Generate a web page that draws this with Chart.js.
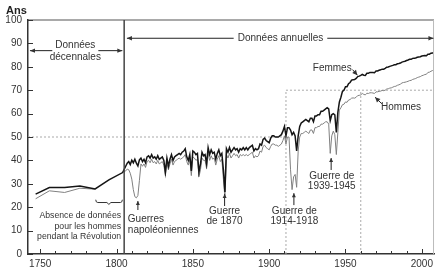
<!DOCTYPE html>
<html><head><meta charset="utf-8">
<script src="https://cdn.jsdelivr.net/npm/chart.js@4"></script>
<style>html,body{margin:0;padding:0;background:#fff}canvas{display:block}</style>
</head><body>
<canvas id="c" width="437" height="275"></canvas>
<script>
// ---- data ----
const decadeYears = [1747, 1756, 1766, 1776, 1786, 1795, 1804];
const womenDecade = [25.6, 28.4, 28.4, 29.1, 27.8, 31.7, 34.8];
const menDecade   = [23.6, 27.0, 26.3, 28.1, 27.7, null, 35.0];

const annualStart = 1806;
const womenAnnual = [
  37.5, 38.8, 39.5, 38.2, 40.1, 39.0, 40.5, 38.8, 37.6, 40.2,
  41.0, 39.5, 40.5, 39.0, 41.5, 42.0, 41.0, 42.5, 41.0, 41.5,
  40.5, 42.0, 40.5, 41.0, 41.5, 40.0, 35.0, 41.0, 37.5, 40.5,
  42.5, 40.0, 41.5, 42.0, 42.5, 43.0, 42.5, 43.5, 44.0, 45.0,
  41.5, 40.0, 42.5, 35.5, 44.0, 43.5, 42.5, 43.0, 35.0, 38.5,
  43.5, 42.0, 42.5, 38.5, 45.5, 42.5, 44.5, 43.0, 43.5, 40.5,
  43.0, 44.5, 42.0, 43.0, 36.0, 26.5, 45.0, 43.5, 45.5, 43.5,
  44.5, 45.5, 44.5, 45.0, 43.5, 45.0, 44.5, 45.5, 44.5, 45.5,
  44.5, 45.5, 46.0, 46.5, 44.0, 45.0, 44.5, 45.0, 47.0, 46.5,
  49.0, 49.5, 48.5, 48.0, 47.5, 49.5, 50.5, 50.5, 50.0, 50.0,
  50.0, 50.5, 51.0, 52.5, 54.5, 50.5, 54.0, 54.0, 53.0, 51.0,
  52.0, 50.5, 44.0, 50.5, 54.5, 56.0, 56.5, 57.0, 57.5, 57.0,
  56.5, 58.0, 58.0, 56.5, 59.0, 59.0, 59.5, 59.5, 61.0, 61.0,
  61.5, 62.0, 62.5, 62.0, 57.0, 59.5, 60.0, 59.5, 52.0, 60.5,
  65.0, 67.0, 69.5, 70.0, 71.5, 71.5, 72.8, 73.3, 74.3, 74.5,
  74.6, 75.0, 75.8, 76.0, 76.3, 76.8, 76.4, 76.3, 77.2, 77.2,
  77.6, 77.6, 77.6, 77.5, 78.2, 78.2, 78.5, 78.7, 79.0, 79.0,
  79.3, 79.8, 79.9, 80.2, 80.4, 80.6, 80.9, 80.9, 81.3, 81.4,
  81.6, 82.0, 82.2, 82.4, 82.7, 82.9, 83.2, 83.2, 83.6, 83.7,
  83.8, 84.1, 84.2, 84.3, 84.6, 84.7, 84.8, 84.7, 85.4, 85.4,
  85.8, 85.9, 86.0
];
const menAnnual = [
  35.5, 36.3, 36.0, 34.5, 32.0, 27.5, 24.5, 24.0, 25.0, 31.5,
  38.5, 37.5, 38.5, 37.0, 39.5, 40.0, 39.0, 40.5, 39.0, 39.5,
  38.5, 40.0, 38.5, 39.0, 39.5, 38.0, 33.5, 39.0, 36.0, 38.5,
  40.5, 38.0, 39.5, 40.0, 40.5, 41.0, 40.5, 41.0, 41.5, 42.5,
  39.5, 38.0, 40.5, 33.5, 41.5, 41.0, 40.0, 40.5, 33.0, 36.0,
  41.0, 40.0, 40.0, 36.5, 43.0, 40.0, 42.0, 40.5, 41.0, 38.0,
  40.5, 42.0, 39.5, 40.5, 32.0, 24.0, 42.5, 41.0, 43.0, 41.0,
  42.0, 43.0, 42.0, 42.5, 41.0, 42.5, 42.0, 42.5, 42.0, 42.5,
  42.0, 42.5, 43.0, 43.5, 41.0, 42.0, 41.5, 42.0, 44.0, 43.5,
  46.0, 46.5, 45.5, 45.0, 44.5, 46.0, 47.0, 47.0, 46.5, 46.5,
  46.0, 46.5, 47.0, 48.5, 50.5, 47.0, 50.0, 50.0, 36.0, 27.5,
  33.0, 34.0, 28.5, 44.0, 50.0, 51.5, 51.5, 52.0, 52.5, 52.0,
  51.5, 53.0, 53.0, 51.5, 54.0, 54.0, 54.5, 54.5, 55.5, 55.5,
  56.0, 56.5, 56.5, 55.5, 43.0, 50.5, 52.5, 51.0, 42.5, 52.0,
  61.5, 62.5, 63.8, 64.0, 65.0, 64.8, 65.8, 66.0, 66.6, 66.7,
  66.6, 67.0, 67.7, 67.8, 68.0, 68.6, 68.2, 68.0, 68.7, 68.6,
  68.9, 68.9, 68.8, 68.6, 69.3, 69.3, 69.5, 69.6, 69.9, 69.8,
  70.0, 70.5, 70.6, 70.9, 71.0, 71.3, 71.6, 71.7, 72.1, 72.3,
  72.6, 73.1, 73.3, 73.4, 73.6, 73.8, 74.1, 74.2, 74.6, 74.8,
  75.0, 75.4, 75.6, 75.8, 76.2, 76.4, 76.7, 76.8, 77.6, 77.7,
  78.1, 78.4, 78.7
];
const xTickLabels = [1750, 1800, 1850, 1900, 1950, 2000];
const yTickLabels = [0, 10, 20, 30, 40, 50, 60, 70, 80, 90, 100];

// ---- build ----
const annualYears = womenAnnual.map((_, i) => annualStart + i);
const toPts = (xs, ys) => xs.map((x, i) => ({ x: x, y: ys[i] }));
const womenData = toPts(decadeYears, womenDecade).concat(toPts(annualYears, womenAnnual));
const menData = toPts(decadeYears, menDecade).concat(toPts(annualYears, menAnnual));

const FONT = '"Liberation Sans", Arial, Helvetica, sans-serif';
Chart.defaults.font.family = FONT;
const TXT = '#333';

function head(ctx, x1, y1, x2, y2, len, w) {
  const a = Math.atan2(y2 - y1, x2 - x1);
  const c = Math.cos(a), s = Math.sin(a);
  ctx.beginPath();
  ctx.moveTo(x2, y2);
  ctx.lineTo(x2 - len * c + w * s, y2 - len * s - w * c);
  ctx.lineTo(x2 - len * c - w * s, y2 - len * s + w * c);
  ctx.closePath();
  ctx.fill();
}
function seg(ctx, x1, y1, x2, y2) {
  ctx.beginPath(); ctx.moveTo(x1, y1); ctx.lineTo(x2, y2); ctx.stroke();
}
function arrow(ctx, x1, y1, x2, y2, len, w) {
  seg(ctx, x1, y1, x2, y2); head(ctx, x1, y1, x2, y2, len || 5, w || 2.2);
}

const annot = {
  id: 'annot',
  beforeDatasetsDraw(chart) {
    const { ctx, scales: { x, y } } = chart;
    const X = v => x.getPixelForValue(v), Y = v => y.getPixelForValue(v);
    ctx.save();
    ctx.strokeStyle = '#aaa'; ctx.lineWidth = 1; ctx.setLineDash([2, 2]);
    seg(ctx, X(1742), Y(50), X(1911), Y(50));
    seg(ctx, X(1911), Y(0), X(1911), Y(70));
    seg(ctx, X(1911), Y(70), X(2008), Y(70));
    seg(ctx, X(1960), Y(0), X(1960), Y(70));
    ctx.restore();
  },
  afterDraw(chart) {
    const { ctx, chartArea: a, scales: { x, y } } = chart;
    const X = v => x.getPixelForValue(v), Y = v => y.getPixelForValue(v);
    ctx.save();
    // frame top/right
    ctx.strokeStyle = '#555'; ctx.lineWidth = 1.2;
    seg(ctx, a.left, a.top, a.right, a.top);
    ctx.strokeStyle = '#bbb'; ctx.lineWidth = 1;
    seg(ctx, a.right - 0.5, a.top, a.right - 0.5, a.bottom);
    // separator
    ctx.strokeStyle = '#444'; ctx.lineWidth = 1.5;
    seg(ctx, X(1805), a.top, X(1805), a.bottom);
    // ticks
    ctx.strokeStyle = '#333'; ctx.lineWidth = 1;
    for (let v = xTickLabels[0]; v <= xTickLabels[xTickLabels.length - 1]; v += 10) {
      const major = xTickLabels.includes(v);
      const px = Math.round(X(v)) + 0.5;
      seg(ctx, px, a.bottom, px, a.bottom - (major ? 5 : 3));
    }
    yTickLabels.forEach(v => {
      const py = Math.round(Y(v)) + 0.5;
      seg(ctx, a.left, py, a.left + 5, py);
    });
    // title
    ctx.fillStyle = '#222';
    ctx.font = 'bold 11px ' + FONT;
    ctx.textAlign = 'left'; ctx.textBaseline = 'alphabetic';
    ctx.fillText('Ans', 6, 14);

    ctx.fillStyle = TXT; ctx.strokeStyle = '#222';
    ctx.font = '10px ' + FONT;
    ctx.textBaseline = 'middle'; ctx.textAlign = 'center';
    // Données décennales
    let cx = X(1773);
    ctx.fillText('Données', cx, Y(89.3));
    ctx.fillText('décennales', cx, Y(84.2));
    let w = ctx.measureText('Données').width / 2 + 3;
    let ay = Y(86.9);
    arrow(ctx, cx - w, ay, X(1743.3), ay);
    arrow(ctx, cx + w, ay, X(1803.8), ay);
    // Données annuelles
    cx = X(1907.4); ay = Y(92.2);
    ctx.fillText('Données annuelles', cx, ay);
    w = ctx.measureText('Données annuelles').width / 2 + 4;
    arrow(ctx, cx - w, ay, X(1806.8), ay);
    arrow(ctx, cx + w, ay, X(2007.6), ay);
    // Femmes / Hommes
    ctx.fillText('Femmes', X(1941.3), Y(79.3));
    arrow(ctx, X(1954.6), Y(78.8), X(1957.8), Y(76.4), 5, 2.5);
    ctx.fillText('Hommes', X(1986.4), Y(62.8));
    arrow(ctx, X(1973.8), Y(64.2), X(1969.4), Y(67.0), 5, 2.5);
    // wars
    ctx.textAlign = 'left';
    ctx.fillText('Guerres', X(1807.4), Y(15.0));
    ctx.fillText('napoléoniennes', X(1807.4), Y(10.3));
    arrow(ctx, X(1814), Y(18.8), X(1814), Y(22.6), 4, 2);
    ctx.textAlign = 'center';
    ctx.fillText('Guerre', X(1870.8), Y(18.1));
    ctx.fillText('de 1870', X(1870.8), Y(13.8));
    arrow(ctx, X(1870.8), Y(20.5), X(1870.8), Y(25.6), 4, 2);
    ctx.fillText('Guerre de', X(1916.5), Y(18.4));
    ctx.fillText('1914-1918', X(1916.5), Y(13.8));
    arrow(ctx, X(1916.2), Y(20.9), X(1916.2), Y(26.0), 4, 2);
    ctx.fillText('Guerre de', X(1941), Y(33.3));
    ctx.fillText('1939-1945', X(1941), Y(29.1));
    arrow(ctx, X(1940.6), Y(35.9), X(1940.6), Y(41.0), 4, 2);
    // absence note
    ctx.font = '8.7px ' + FONT;
    ctx.textAlign = 'right';
    const rx = X(1803.0);
    ctx.fillText('Absence de données', rx, Y(16.2));
    ctx.fillText('pour les hommes', rx, Y(11.5));
    ctx.fillText('pendant la Révolution', rx, Y(7.3));
    // brace
    ctx.strokeStyle = '#333'; ctx.lineWidth = 1;
    const bl = X(1786.4), bm = X(1795), br = X(1803.8);
    const bt = Y(23.2), bb = Y(22.0), bd = Y(21.2);
    ctx.beginPath();
    ctx.moveTo(bl, bt);
    ctx.quadraticCurveTo(bl, bb, bl + 2, bb);
    ctx.lineTo(bm - 2, bb);
    ctx.lineTo(bm, bd);
    ctx.lineTo(bm + 2, bb);
    ctx.lineTo(br - 2, bb);
    ctx.quadraticCurveTo(br, bb, br, bt);
    ctx.stroke();
    ctx.restore();
  }
};

new Chart(document.getElementById('c'), {
  type: 'line',
  data: {
    datasets: [
      { label: 'Femmes', data: womenData, borderColor: '#151515', borderWidth: 1.5,
        pointRadius: 0, tension: 0, spanGaps: false, fill: false },
      { label: 'Hommes', data: menData, borderColor: '#808080', borderWidth: 1.0,
        pointRadius: 0, tension: 0, spanGaps: false, fill: false }
    ]
  },
  options: {
    responsive: false, animation: false, devicePixelRatio: 1,
    layout: { padding: { top: 20, right: 2, left: 0, bottom: 0 } },
    plugins: { legend: { display: false }, tooltip: { enabled: false }, title: { display: false } },
    scales: {
      x: {
        type: 'linear', min: 1742, max: 2008,
        grid: { display: false, drawTicks: false },
        border: { display: true, color: '#333', width: 1.5 },
        afterBuildTicks: s => { s.ticks = xTickLabels.map(v => ({ value: v })); },
        afterFit: s => { s.height = 21; },
        ticks: { callback: v => String(v), color: TXT, font: { size: 10 }, padding: 4, maxRotation: 0 }
      },
      y: {
        type: 'linear', min: 0, max: 100,
        grid: { display: false, drawTicks: false },
        border: { display: true, color: '#333', width: 1.5 },
        afterBuildTicks: s => { s.ticks = yTickLabels.map(v => ({ value: v })); },
        afterFit: s => { s.width = 28; },
        ticks: { callback: v => String(v), color: TXT, font: { size: 10 }, padding: 6 }
      }
    }
  },
  plugins: [annot]
});
</script>
</body></html>
